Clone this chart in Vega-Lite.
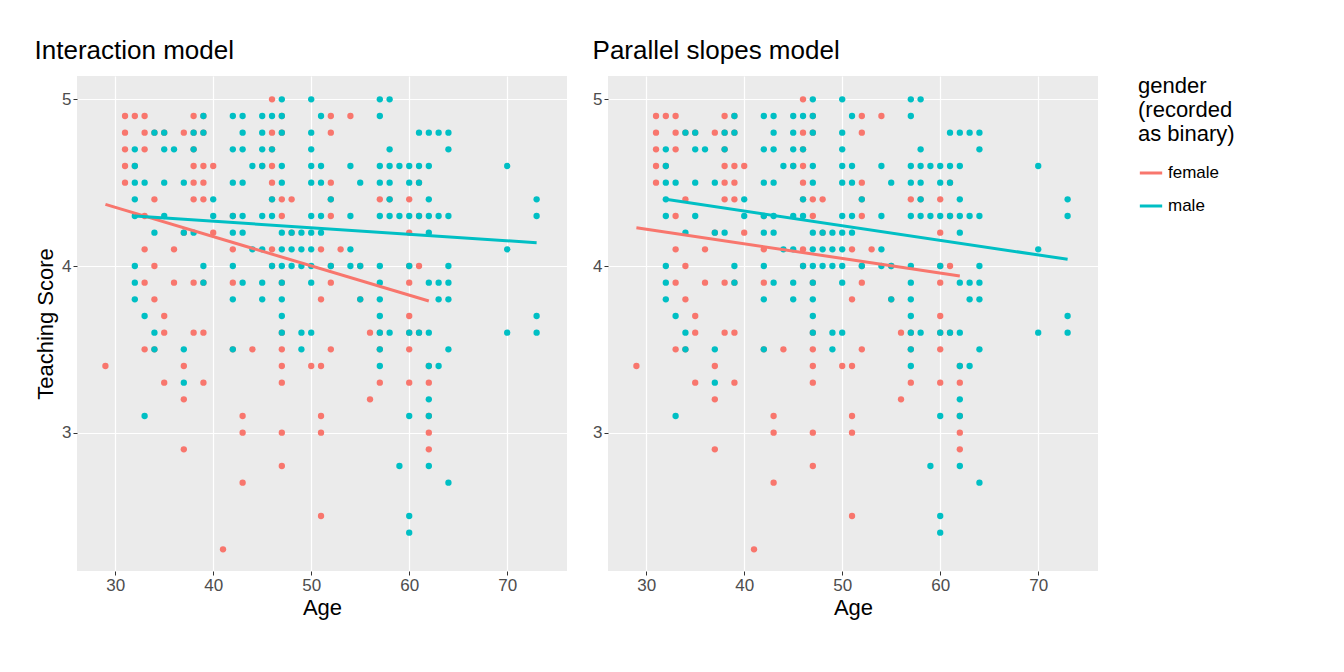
{
"$schema":"https://vega.github.io/schema/vega-lite/v6.json",
"background":"white",
"padding":{"left":34,"top":38,"right":10,"bottom":10},
"spacing":25,
"config":{"font":"Liberation Sans","view":{"fill":"#EBEBEB","stroke":null},
"axis":{"gridColor":"white","gridWidth":1.2,"domain":false,"tickColor":"#333333","tickSize":4,"labelColor":"#4D4D4D","labelFontSize":17,"titleFontSize":22,"titleFontWeight":"normal","titleColor":"black"},
"title":{"fontSize":26,"fontWeight":"normal","anchor":"start","offset":12},
"legend":{"titleFontSize":22,"titleFontWeight":"normal","labelFontSize":17,"symbolSize":500,"symbolStrokeWidth":3,"rowPadding":12,"titlePadding":14,"symbolType":"stroke","offset":40}},
"datasets":{
"pts":[
{"a":29,"g":"female","s":[3.4]},
{"a":31,"g":"female","s":[4.9,4.8,4.7,4.6,4.5]},
{"a":32,"g":"female","s":[4.9,4.6]},
{"a":33,"g":"female","s":[4.9,4.8,4.7,4.3,4.1,3.9,3.5]},
{"a":34,"g":"female","s":[4.8,4.4,4.0,3.8,3.5]},
{"a":35,"g":"female","s":[4.8,3.7,3.6,3.3]},
{"a":36,"g":"female","s":[4.1,3.9]},
{"a":37,"g":"female","s":[4.8,4.2,3.4,3.2,2.9]},
{"a":38,"g":"female","s":[4.9,4.8,4.7,4.6,4.5,4.4,3.9,3.6]},
{"a":39,"g":"female","s":[4.9,4.8,4.6,4.5,4.4,3.9,3.6,3.3]},
{"a":40,"g":"female","s":[4.6,4.2]},
{"a":41,"g":"female","s":[2.3]},
{"a":42,"g":"female","s":[4.3,4.1,3.9,3.5]},
{"a":43,"g":"female","s":[3.1,3.0,2.7]},
{"a":44,"g":"female","s":[3.5]},
{"a":45,"g":"female","s":[4.6]},
{"a":46,"g":"female","s":[5.0,4.8,4.7,4.6,4.5,4.4,4.1,4.0]},
{"a":47,"g":"female","s":[4.9,4.8,4.4,4.3,3.9,3.6,3.5,3.4,3.3,3.0,2.8]},
{"a":48,"g":"female","s":[4.4,4.2]},
{"a":50,"g":"female","s":[3.4]},
{"a":51,"g":"female","s":[4.1,3.8,3.4,3.1,3.0,2.5]},
{"a":52,"g":"female","s":[4.9,4.8,4.5,4.4,4.3,4.0,3.9,3.5]},
{"a":53,"g":"female","s":[4.1]},
{"a":54,"g":"female","s":[4.9]},
{"a":55,"g":"female","s":[4.0,3.8]},
{"a":56,"g":"female","s":[3.6,3.2]},
{"a":57,"g":"female","s":[4.4,3.6,3.5,3.3]},
{"a":58,"g":"female","s":[4.4]},
{"a":60,"g":"female","s":[4.4,4.2,4.0,3.9,3.7,3.6,3.5,3.3]},
{"a":61,"g":"female","s":[4.5,4.3,4.0,3.6]},
{"a":62,"g":"female","s":[3.4,3.3,3.1,3.0,2.9]},
{"a":32,"g":"male","s":[4.7,4.6,4.5,4.4,4.3,4.0,3.9,3.8]},
{"a":33,"g":"male","s":[4.5,3.7,3.1]},
{"a":34,"g":"male","s":[4.8,4.2,3.6,3.5]},
{"a":35,"g":"male","s":[4.8,4.7,4.5,4.3]},
{"a":36,"g":"male","s":[4.7]},
{"a":37,"g":"male","s":[4.5,4.2,3.5,3.3]},
{"a":38,"g":"male","s":[4.8,4.7,4.2]},
{"a":39,"g":"male","s":[4.9,4.8,4.0,3.9]},
{"a":40,"g":"male","s":[4.4,4.3]},
{"a":42,"g":"male","s":[4.9,4.7,4.5,4.3,4.2,4.0,3.8,3.5]},
{"a":43,"g":"male","s":[4.9,4.8,4.7,4.5,4.3,4.2,3.9]},
{"a":44,"g":"male","s":[4.6,4.1]},
{"a":45,"g":"male","s":[4.9,4.8,4.7,4.6,4.3,4.1,3.9,3.8]},
{"a":46,"g":"male","s":[4.9,4.7,4.4,4.3,4.0]},
{"a":47,"g":"male","s":[5.0,4.9,4.8,4.6,4.5,4.2,4.1,4.0,3.9,3.8,3.7,3.6]},
{"a":48,"g":"male","s":[4.2,4.1,4.0]},
{"a":49,"g":"male","s":[4.2,4.1,4.0,3.6,3.5]},
{"a":50,"g":"male","s":[5.0,4.8,4.7,4.6,4.5,4.3,4.2,4.1,4.0,3.9,3.6]},
{"a":51,"g":"male","s":[4.9,4.6,4.5,4.3,4.2]},
{"a":52,"g":"male","s":[4.4,4.0]},
{"a":54,"g":"male","s":[4.6,4.3,4.1,4.0]},
{"a":55,"g":"male","s":[4.5,4.0,3.8]},
{"a":57,"g":"male","s":[5.0,4.9,4.6,4.5,4.3,4.0,3.9,3.8,3.7,3.6,3.5,3.4]},
{"a":58,"g":"male","s":[5.0,4.7,4.6,4.5,4.4,4.3,3.6]},
{"a":59,"g":"male","s":[4.6,4.3,2.8]},
{"a":60,"g":"male","s":[4.6,4.5,4.3,4.0,3.6,3.1,2.5,2.4]},
{"a":61,"g":"male","s":[4.8,4.6,4.5,4.3,3.6]},
{"a":62,"g":"male","s":[4.8,4.6,4.4,4.3,4.2,3.9,3.6,3.4,3.2,3.1,2.8]},
{"a":63,"g":"male","s":[4.8,4.3,3.9,3.8,3.4]},
{"a":64,"g":"male","s":[4.8,4.7,4.3,4.0,3.9,3.8,3.5,2.7]},
{"a":70,"g":"male","s":[4.6,4.1,3.6]},
{"a":73,"g":"male","s":[4.4,4.3,3.7,3.6]}
],
"fit":[
{"m":"int","g":"female","a":29,"s":4.37},{"m":"int","g":"female","a":62,"s":3.79},
{"m":"int","g":"male","a":32,"s":4.30},{"m":"int","g":"male","a":73,"s":4.14},
{"m":"par","g":"female","a":29,"s":4.23},{"m":"par","g":"female","a":62,"s":3.94},
{"m":"par","g":"male","a":32,"s":4.40},{"m":"par","g":"male","a":73,"s":4.04}
]},
"hconcat":[
{"title":"Interaction model","width":490,"height":495,
"layer":[
{"data":{"name":"pts"},"transform":[{"flatten":["s"]}],"mark":{"type":"circle","size":40,"opacity":1},
"encoding":{"x":{"field":"a","type":"quantitative","scale":{"domain":[26.1,76.1],"nice":false},"axis":{"values":[30,40,50,60,70],"title":"Age"}},
"y":{"field":"s","type":"quantitative","scale":{"domain":[2.17,5.14],"nice":false,"zero":false},"axis":{"values":[3,4,5],"format":"d","title":"Teaching Score"}},
"color":{"field":"g","type":"nominal","scale":{"domain":["female","male"],"range":["#F8766D","#00BFC4"]},"title":["gender","(recorded","as binary)"]}}},
{"data":{"name":"fit"},"transform":[{"filter":"datum.m=='int'"}],"mark":{"type":"line","strokeWidth":3},
"encoding":{"x":{"field":"a","type":"quantitative"},"y":{"field":"s","type":"quantitative"},
"color":{"field":"g","type":"nominal","title":["gender","(recorded","as binary)"]}}}
]},
{"title":"Parallel slopes model","width":490,"height":495,
"layer":[
{"data":{"name":"pts"},"transform":[{"flatten":["s"]}],"mark":{"type":"circle","size":40,"opacity":1},
"encoding":{"x":{"field":"a","type":"quantitative","scale":{"domain":[26.1,76.1],"nice":false},"axis":{"values":[30,40,50,60,70],"title":"Age"}},
"y":{"field":"s","type":"quantitative","scale":{"domain":[2.17,5.14],"nice":false,"zero":false},"axis":{"values":[3,4,5],"format":"d","title":null}},
"color":{"field":"g","type":"nominal","title":["gender","(recorded","as binary)"]}}},
{"data":{"name":"fit"},"transform":[{"filter":"datum.m=='par'"}],"mark":{"type":"line","strokeWidth":3},
"encoding":{"x":{"field":"a","type":"quantitative"},"y":{"field":"s","type":"quantitative"},
"color":{"field":"g","type":"nominal","title":["gender","(recorded","as binary)"]}}}
]}
]
}
